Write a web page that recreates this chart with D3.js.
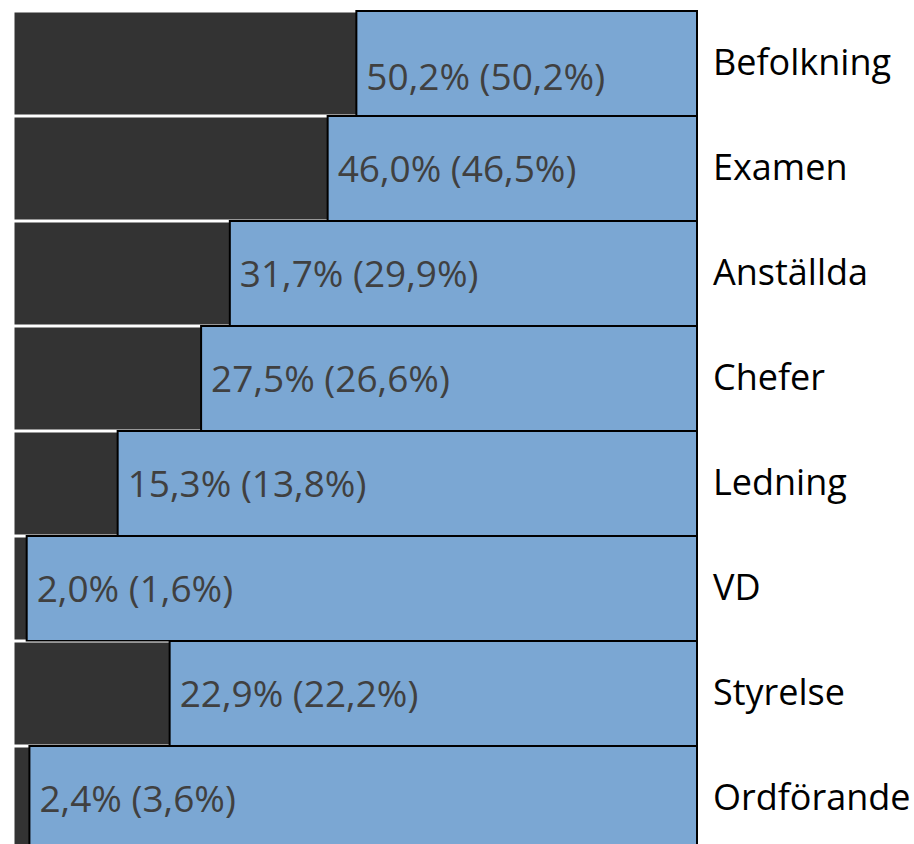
<!DOCTYPE html>
<html>
<head>
<meta charset="utf-8">
<script src="https://cdn.jsdelivr.net/npm/d3@7"></script>
<style>
  body { margin: 0; background: #fff; }
  text { font-family: "Open Sans", sans-serif; }
</style>
</head>
<body>
<div id="chart"></div>
<script>
const width = 914
const height = 844

const categories = ['Befolkning', 'Examen', 'Anställda', 'Chefer', 'Ledning', 'VD', 'Styrelse', 'Ordförande']
const share = [50.2, 46.0, 31.7, 27.5, 15.3, 2.0, 22.9, 2.4]
const sharePrev = [50.2, 46.5, 29.9, 26.6, 13.8, 1.6, 22.2, 3.6]

const fmt = (v) => d3.format('.1f')(v).replace('.', ',') + '%'

const svg = d3.select('#chart')
  .append('svg')
  .attr('width', width)
  .attr('height', height)

const x = d3.scaleLinear()
  .domain([0, 100])
  .range([13, 697])

const y = d3.scaleBand()
  .domain(categories)
  .range([10, 850])
  .padding(0)

const rows = svg.selectAll('g.row')
  .data(categories)
  .enter()
  .append('g')
  .attr('class', 'row')

// dark part
rows.append('rect')
  .attr('x', x(0) + 1)
  .attr('y', (d) => y(d) + 2)
  .attr('width', (d, i) => x(share[i]) - x(0))
  .attr('height', y.bandwidth() - 2)
  .attr('fill', '#333333')
  .attr('stroke', '#fff')
  .attr('stroke-width', 1)

// blue remainder
rows.append('rect')
  .attr('x', (d, i) => x(share[i]))
  .attr('y', (d) => y(d) + 1)
  .attr('width', (d, i) => x(100) - x(share[i]))
  .attr('height', y.bandwidth())
  .attr('fill', '#7BA7D3')
  .attr('stroke', '#000')
  .attr('stroke-width', 2)

rows.append('text')
  .attr('x', (d, i) => x(share[i]) + 10)
  .attr('y', (d, i) => y(d) + y.bandwidth() / 2 + (i === 0 ? 18 : 5))
  .attr('dominant-baseline', 'middle')
  .attr('fill', '#404040')
  .style('font-size', '37px')
  .text((d, i) => `${fmt(share[i])} (${fmt(sharePrev[i])})`)

rows.append('text')
  .attr('x', 713)
  .attr('y', (d) => y(d) + y.bandwidth() / 2 + 3)
  .attr('dominant-baseline', 'middle')
  .attr('fill', '#000')
  .style('font-size', '36px')
  .text((d) => d)
</script>
</body>
</html>
